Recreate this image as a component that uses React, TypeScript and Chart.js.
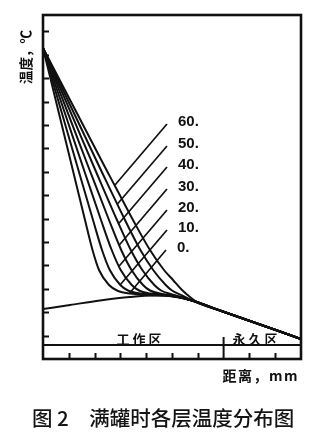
import React, { useEffect, useRef } from 'react';
import { Chart, registerables } from 'chart.js';

Chart.register(...registerables);

// Layer labels (curves from left to right)
const layers = [0, 10, 20, 30, 40, 50, 60];

// Axis units: distance 0..10 (tick units), temperature 0..14.7 (tick units)
const dist0 = [0, 0.682, 1.155, 1.628, 1.919, 2.171, 2.558, 2.907, 3.372, 4.147, 5.0, 5.775, 6.86, 8.023, 9.186, 10];
const temp0 = [13.291, 10.214, 8.077, 5.94, 4.658, 3.803, 3.162, 2.906, 2.799, 2.735, 2.692, 2.5, 2.073, 1.624, 1.175, 0.855];

const dist10 = [0, 0.81, 1.372, 1.938, 2.287, 2.589, 2.996, 3.295, 3.76, 4.535, 5.775, 6.86, 8.023, 9.186, 10];
const temp10 = [13.291, 10.214, 8.077, 5.94, 4.658, 3.803, 3.162, 2.927, 2.799, 2.744, 2.5, 2.073, 1.624, 1.175, 0.855];

const dist20 = [0, 0.938, 1.589, 2.248, 2.663, 3.012, 3.438, 3.721, 4.147, 4.922, 5.775, 6.86, 8.023, 9.186, 10];
const temp20 = [13.291, 10.214, 8.077, 5.94, 4.658, 3.803, 3.162, 2.927, 2.799, 2.714, 2.5, 2.073, 1.624, 1.175, 0.855];

const dist30 = [0, 1.066, 1.806, 2.558, 3.031, 3.43, 3.876, 4.147, 4.612, 5.194, 5.775, 6.86, 8.023, 9.186, 10];
const temp30 = [13.291, 10.214, 8.077, 5.94, 4.658, 3.803, 3.162, 2.927, 2.778, 2.692, 2.5, 2.073, 1.624, 1.175, 0.855];

const dist40 = [0, 1.198, 2.027, 2.868, 3.403, 3.849, 4.314, 4.574, 5.0, 5.775, 6.86, 8.023, 9.186, 10];
const temp40 = [13.291, 10.214, 8.077, 5.94, 4.658, 3.803, 3.162, 2.927, 2.756, 2.5, 2.073, 1.624, 1.175, 0.855];

const dist50 = [0, 1.326, 2.244, 3.178, 3.775, 4.271, 4.756, 5.0, 5.388, 5.775, 6.86, 8.023, 9.186, 10];
const temp50 = [13.291, 10.214, 8.077, 5.94, 4.658, 3.803, 3.162, 2.927, 2.714, 2.5, 2.073, 1.624, 1.175, 0.855];

const dist60 = [0, 1.453, 2.461, 2.791, 3.488, 4.147, 4.69, 5.039, 5.388, 5.698, 6.008, 6.86, 8.023, 9.186, 10];
const temp60 = [13.291, 10.214, 8.077, 7.393, 5.94, 4.658, 3.803, 3.376, 2.949, 2.65, 2.41, 2.073, 1.624, 1.175, 0.855];

// Base (lower envelope) curve
const baseDist = [0, 1.047, 2.209, 3.372, 4.341, 5.116, 5.775, 6.86, 8.023, 9.186, 10];
const baseTemp = [2.137, 2.308, 2.5, 2.65, 2.714, 2.671, 2.5, 2.073, 1.624, 1.175, 0.855];

// Leader lines from labels to curves (per layer 0..60)
const leaderTopDist = [4.767, 4.806, 4.806, 4.806, 4.806, 4.806, 4.806];
const leaderTopTemp = [4.658, 5.513, 6.368, 7.265, 8.205, 9.103, 10.043];
const leaderEndDist = [3.353, 2.984, 2.953, 2.957, 2.946, 2.884, 2.791];
const leaderEndTemp = [2.808, 3.162, 3.974, 4.872, 5.799, 6.624, 7.436];

// Axis decorations
const yTicks = [1, 2, 3, 4, 5, 6, 7, 8, 9, 10, 11, 12, 13, 14];
const xTicks = [1, 2, 3, 4, 5, 6, 8, 9];
const dividerDist = 7;
const dividerTop = 0.94;
const floorLineTemp = 0.6;
const regionNames = ['工作区', '永久区'];
const regionDist = [3.78, 8.28];
const regionTemp = 0.85;

const curveDist = [dist0, dist10, dist20, dist30, dist40, dist50, dist60];
const curveTemp = [temp0, temp10, temp20, temp30, temp40, temp50, temp60];

const INK = '#111111';

const decorPlugin = {
  id: 'decor',
  afterDatasetsDraw(chart: any) {
    const { ctx, chartArea, scales } = chart;
    const xs = scales.x;
    const ys = scales.y;
    const { left, right, top, bottom } = chartArea;
    ctx.save();
    ctx.strokeStyle = INK;
    ctx.fillStyle = INK;

    // frame
    ctx.lineWidth = 2.6;
    ctx.strokeRect(left, top, right - left, bottom - top);

    // y ticks (inward)
    ctx.lineWidth = 2;
    ctx.beginPath();
    yTicks.forEach((v) => {
      const py = Math.round(ys.getPixelForValue(v)) + 0.5;
      ctx.moveTo(left, py);
      ctx.lineTo(left + 6, py);
    });
    // x ticks (inward from bottom)
    xTicks.forEach((v) => {
      const px = Math.round(xs.getPixelForValue(v)) + 0.5;
      ctx.moveTo(px, bottom);
      ctx.lineTo(px, bottom - 6);
    });
    ctx.stroke();

    // floor line and divider
    ctx.lineWidth = 2;
    ctx.beginPath();
    const fy = ys.getPixelForValue(floorLineTemp);
    ctx.moveTo(left, fy);
    ctx.lineTo(right, fy);
    const dx = xs.getPixelForValue(dividerDist);
    ctx.moveTo(dx, bottom);
    ctx.lineTo(dx, ys.getPixelForValue(dividerTop));
    ctx.stroke();

    // layer labels
    ctx.font = 'bold 15px "Liberation Sans", Arial, sans-serif';
    ctx.textAlign = 'left';
    ctx.textBaseline = 'middle';
    layers.forEach((layer, i) => {
      const px = xs.getPixelForValue(leaderTopDist[i]) + 11;
      const py = ys.getPixelForValue(leaderTopTemp[i]) - 2;
      ctx.fillText(layer + '.', px, py);
    });

    // region labels
    ctx.font = 'bold 13px "Noto Sans CJK SC", sans-serif';
    ctx.textAlign = 'center';
    (ctx as any).letterSpacing = '3px';
    regionNames.forEach((name, i) => {
      ctx.fillText(name, xs.getPixelForValue(regionDist[i]), ys.getPixelForValue(regionTemp));
    });

    // x axis title
    ctx.font = 'bold 14px "Noto Sans CJK SC", sans-serif';
    ctx.textAlign = 'right';
    (ctx as any).letterSpacing = '1.5px';
    ctx.fillText('距离，mm', right - 2, bottom + 17);

    // y axis title (rotated)
    ctx.save();
    ctx.translate(left - 17, top + 42);
    ctx.rotate(-Math.PI / 2);
    ctx.font = 'bold 13.5px "Noto Sans CJK SC", sans-serif';
    ctx.textAlign = 'center';
    (ctx as any).letterSpacing = '0px';
    ctx.fillText('温度，℃', 0, 0);
    ctx.restore();

    // caption
    ctx.font = '500 20.5px "Noto Sans CJK SC", sans-serif';
    ctx.textAlign = 'left';
    (ctx as any).letterSpacing = '0px';
    ctx.fillStyle = '#141414';
    ctx.fillText('图 2　满罐时各层温度分布图', 32, bottom + 59);

    ctx.restore();
  },
};

export default function App() {
  const canvasRef = useRef<HTMLCanvasElement | null>(null);

  useEffect(() => {
    const canvas = canvasRef.current;
    if (!canvas) return;

    const datasets: any[] = [];
    datasets.push({
      label: 'base',
      data: baseDist.map((d, i) => ({ x: d, y: baseTemp[i] })),
      borderColor: INK,
      borderWidth: 2,
      pointRadius: 0,
      cubicInterpolationMode: 'monotone',
      fill: false,
    });
    layers.forEach((layer, k) => {
      datasets.push({
        label: String(layer),
        data: curveDist[k].map((d, i) => ({ x: d, y: curveTemp[k][i] })),
        borderColor: INK,
        borderWidth: 2,
        pointRadius: 0,
        cubicInterpolationMode: 'monotone',
        fill: false,
      });
      datasets.push({
        label: 'leader' + layer,
        data: [
          { x: leaderEndDist[k], y: leaderEndTemp[k] },
          { x: leaderTopDist[k], y: leaderTopTemp[k] },
        ],
        borderColor: INK,
        borderWidth: 1.7,
        pointRadius: 0,
        tension: 0,
        fill: false,
      });
    });

    const chart = new Chart(canvas, {
      type: 'line',
      data: { datasets },
      options: {
        animation: false,
        responsive: false,
        devicePixelRatio: 1,
        parsing: false as any,
        layout: { padding: { left: 43, right: 21, top: 15, bottom: 75 } },
        plugins: {
          legend: { display: false },
          tooltip: { enabled: false },
          title: { display: false },
        },
        scales: {
          x: { type: 'linear', min: 0, max: 10, display: false },
          y: { type: 'linear', min: 0, max: 14.7, display: false },
        },
      },
      plugins: [decorPlugin],
    });

    return () => chart.destroy();
  }, []);

  return (
    <div style={{ position: 'absolute', left: 0, top: 0, width: 322, height: 434, background: '#ffffff' }}>
      <canvas ref={canvasRef} width={322} height={434} style={{ display: 'block' }} />
    </div>
  );
}
